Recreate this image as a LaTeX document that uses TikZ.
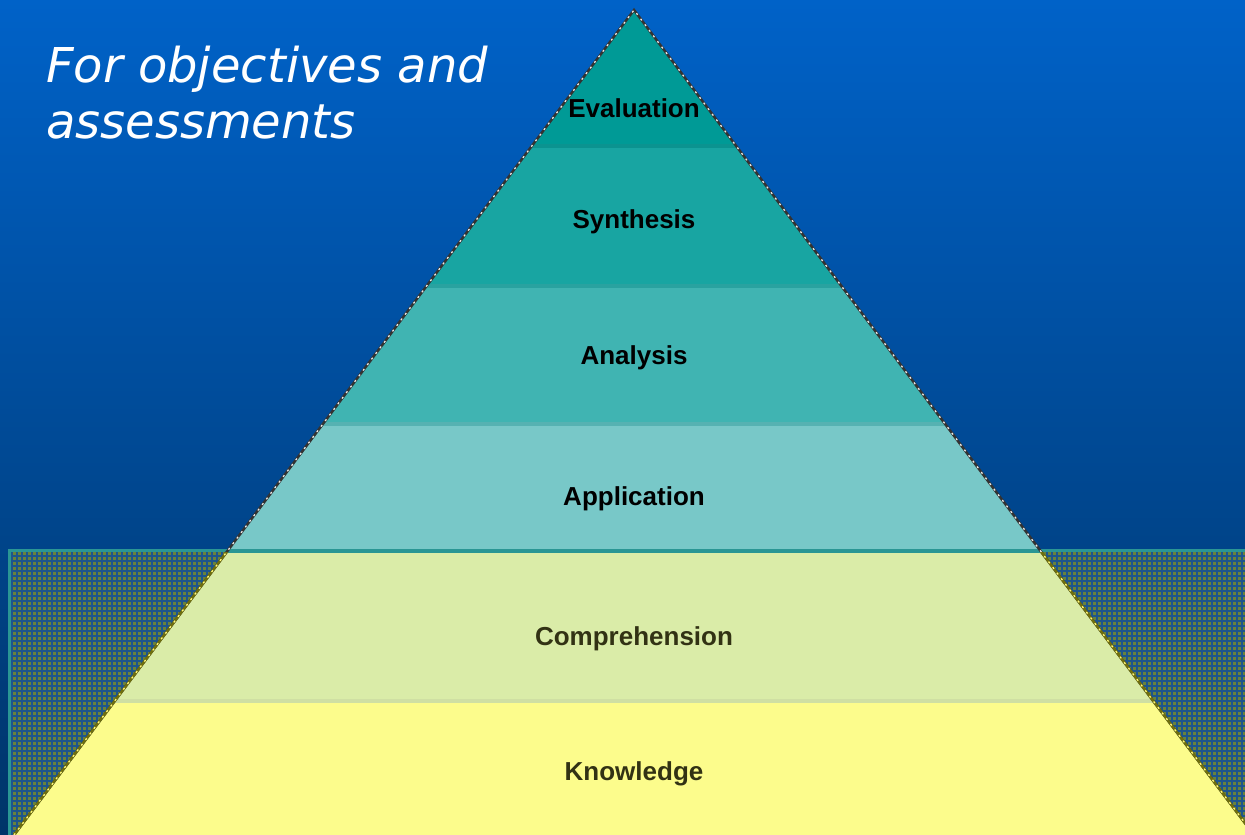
\documentclass[tikz,border=0pt]{standalone}
\usepackage{fontspec}
\newfontfamily\titlefont{DejaVu Sans}
\newfontfamily\labelfont{Liberation Sans}
\definecolor{bgtop}{RGB}{0,98,200}
\definecolor{bgbot}{RGB}{0,52,104}
\definecolor{cEval}{RGB}{0,154,150}
\definecolor{cSynt}{RGB}{24,165,162}
\definecolor{cAnal}{RGB}{64,180,178}
\definecolor{cAppl}{RGB}{120,200,200}
\definecolor{cComp}{RGB}{218,236,168}
\definecolor{cKnow}{RGB}{252,252,140}
\definecolor{boxfill}{RGB}{105,130,60}
\definecolor{boxline}{RGB}{42,150,148}
\definecolor{gridblue}{RGB}{30,85,140}
\definecolor{olivetext}{RGB}{50,50,20}
\tikzset{
  lvl/.style={font=\labelfont\bfseries\fontsize{26}{30}\selectfont, text=black, inner sep=0pt, anchor=base},
  lvllow/.style={lvl, text=olivetext},
  ttl/.style={font=\titlefont\itshape\fontsize{48}{56}\selectfont, text=white, inner sep=0pt, anchor=base west},
  sep/.style={line width=4pt},
}
\begin{document}
\begin{tikzpicture}[x=1pt,y=-1pt]
\useasboundingbox (0,0) rectangle (1245,835);
% background
\shade[top color=bgtop, bottom color=bgbot] (0,0) rectangle (1245,835);
% lower patterned box
\fill[boxfill] (8,549) rectangle (1250,840);
\begin{scope}
\clip (10,552) rectangle (1250,840);
\foreach \x in {12,17,...,1250} \draw[gridblue, line width=1.2pt] (\x,552) -- (\x,840);
\foreach \y in {556,561,...,840} \draw[gridblue, line width=1.2pt] (10,\y) -- (1250,\y);
\end{scope}
\draw[boxline, line width=3pt] (9.5,838) -- (9.5,550.5) -- (1250,550.5);
% pyramid
\coordinate (apex) at (634,10);
\coordinate (bl) at (14,835);
\coordinate (br) at (1254,835);
\begin{scope}
\clip (apex) -- (bl) -- (br) -- cycle;
\fill[cEval] (0,0) rectangle (1260,145);
\fill[cSynt] (0,145) rectangle (1260,285);
\fill[cAnal] (0,285) rectangle (1260,423);
\fill[cAppl] (0,423) rectangle (1260,550);
\fill[cComp] (0,550) rectangle (1260,700);
\fill[cKnow] (0,700) rectangle (1260,840);
\draw[sep, cEval!50!cSynt!92!black] (0,146) -- (1260,146);
\draw[sep, cSynt!50!cAnal!94!black] (0,286) -- (1260,286);
\draw[sep, cAnal!50!cAppl!94!black] (0,424) -- (1260,424);
\draw[sep, boxline] (0,551) -- (1260,551);
\draw[sep, cComp!88!gray] (0,701) -- (1260,701);
\end{scope}
% edges
\draw[black!80, line width=2.5pt] (bl) -- (apex) -- (br);
\draw[white!85!gray, line width=1.3pt, dash pattern=on 2pt off 5pt] (bl) -- (apex) -- (br);
\begin{scope}
\clip (0,552) rectangle (1260,840);
\draw[olivetext!70!yellow, line width=2.6pt] (bl) -- (apex) -- (br);
\draw[yellow!50!white, line width=1.3pt, dash pattern=on 2pt off 5pt] (bl) -- (apex) -- (br);
\end{scope}
% labels
\node[lvl] (eval) at (634,117) {Evaluation};
\node[lvl] (synt) at (634,228) {Synthesis};
\node[lvl] (anal) at (634,364) {Analysis};
\node[lvl] (appl) at (634,505) {Application};
\node[lvllow] (comp) at (634,645) {Comprehension};
\node[lvllow] (know) at (634,780) {Knowledge};
% title
\node[ttl] (title1) at (46,82) {For objectives and};
\node[ttl] (title2) at (46,138) {assessments};
\end{tikzpicture}
\end{document}
